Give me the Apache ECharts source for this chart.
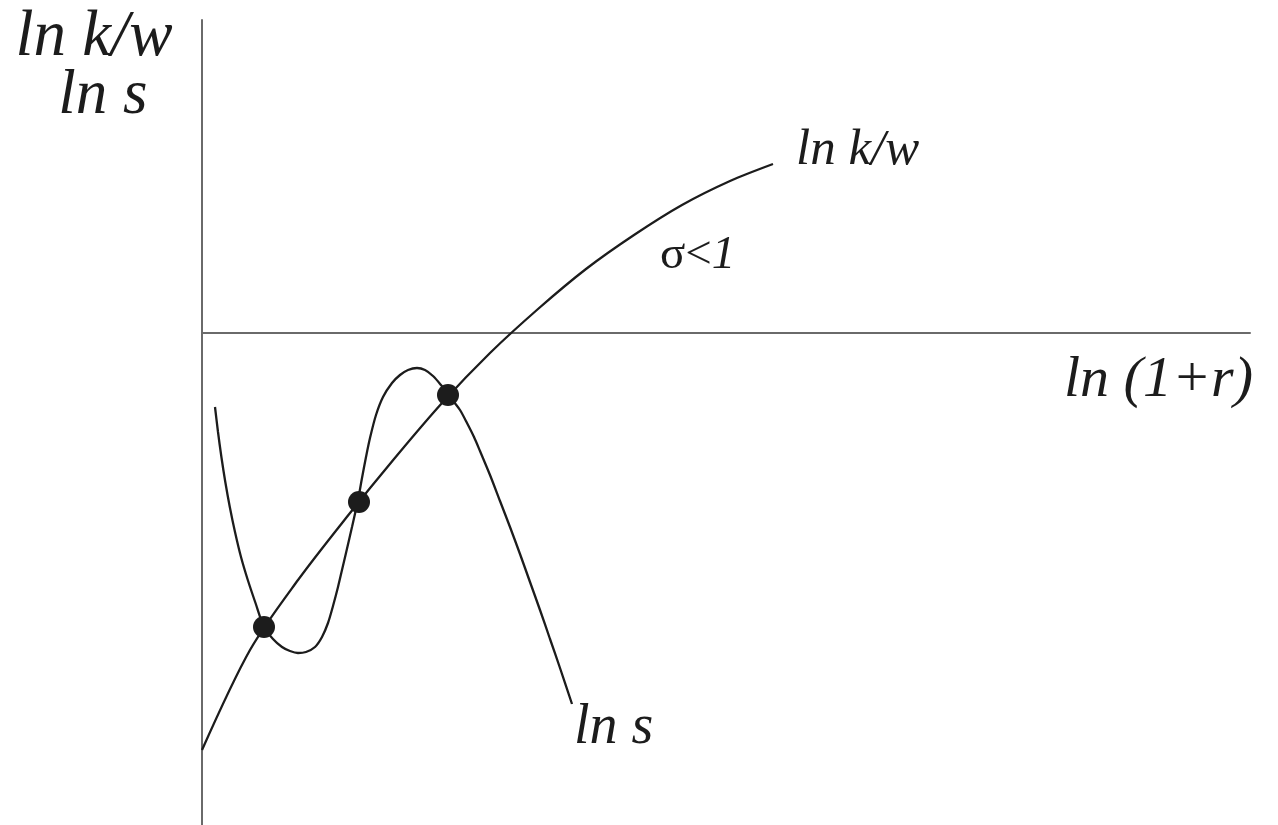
<!DOCTYPE html>
<html>
<head>
<meta charset="utf-8">
<title>ln k/w and ln s against ln (1+r)</title>
<script src="https://cdn.jsdelivr.net/npm/echarts@6/dist/echarts.min.js"></script>
<style>
  html, body { margin: 0; padding: 0; background: #ffffff; }
  #chart { width: 1278px; height: 825px; }
</style>
</head>
<body>
<div id="chart"></div>
<script>
// ln k/w : concave, rising curve (sigma < 1)
const kwX = [0.00, 0.48, 0.96, 1.44, 1.92, 2.40, 2.88, 3.36, 3.84, 4.32, 4.80, 5.28, 5.71];
const kwY = [-4.17, -3.17, -2.47, -1.85, -1.26, -0.70, -0.20, 0.24, 0.64, 0.98, 1.28, 1.52, 1.69];

// ln s : wavy curve crossing ln k/w three times
const sX = [0.130, 0.160, 0.194, 0.233, 0.278, 0.330, 0.390, 0.458, 0.535, 0.62, 0.71, 0.80, 0.88, 0.96,
            1.04, 1.13, 1.20, 1.26, 1.31, 1.36, 1.40, 1.44, 1.50, 1.56, 1.60, 1.64, 1.68, 1.74,
            1.81, 1.90, 1.98, 2.06, 2.15, 2.23, 2.31, 2.39, 2.46, 2.52, 2.58, 2.65, 2.72, 2.78,
            2.88, 2.98, 3.08, 3.18, 3.28, 3.38, 3.48, 3.58, 3.70];
const sY = [-0.74, -0.99, -1.24, -1.49, -1.74, -1.99, -2.24, -2.47, -2.70, -2.94, -3.06, -3.14, -3.18, -3.20,
            -3.19, -3.14, -3.04, -2.90, -2.73, -2.54, -2.37, -2.20, -1.94, -1.67, -1.45, -1.24, -1.05, -0.82,
            -0.64, -0.50, -0.42, -0.37, -0.35, -0.37, -0.43, -0.52, -0.61, -0.69, -0.77, -0.90, -1.04, -1.18,
            -1.42, -1.68, -1.94, -2.21, -2.49, -2.77, -3.06, -3.35, -3.71];

// equilibria where the two curves meet
const eqX = [0.62, 1.57, 2.46];
const eqY = [-2.94, -1.69, -0.62];

const xRange = [0, 10.48];
const yRange = [-4.92, 3.13];

const pair = (xs, ys) => xs.map((x, i) => [x, ys[i]]);

const ink = '#1c1c1c';
const axisGrey = '#6a6a6a';
const italicSerif = (size) => 'italic ' + size + 'px "Liberation Serif", "DejaVu Serif", serif';
const uprightSerif = (size) => size + 'px "Liberation Serif", "DejaVu Serif", serif';

const chart = echarts.init(document.getElementById('chart'), null, { renderer: 'canvas' });

chart.setOption({
  animation: false,
  backgroundColor: '#ffffff',
  grid: { left: 202, right: 28, top: 20, bottom: 0, containLabel: false },
  xAxis: {
    type: 'value',
    min: xRange[0],
    max: xRange[1],
    axisLine: { show: true, onZero: true, lineStyle: { color: axisGrey, width: 2 } },
    axisTick: { show: false },
    axisLabel: { show: false },
    splitLine: { show: false }
  },
  yAxis: {
    type: 'value',
    min: yRange[0],
    max: yRange[1],
    axisLine: { show: true, onZero: false, lineStyle: { color: axisGrey, width: 2 } },
    axisTick: { show: false },
    axisLabel: { show: false },
    splitLine: { show: false }
  },
  series: [
    {
      name: 'ln k/w',
      type: 'line',
      data: pair(kwX, kwY),
      smooth: 0.3,
      symbol: 'none',
      lineStyle: { color: ink, width: 2.3 },
      z: 3
    },
    {
      name: 'ln s',
      type: 'line',
      data: pair(sX, sY),
      smooth: 0.3,
      symbol: 'none',
      lineStyle: { color: ink, width: 2.3 },
      z: 3
    },
    {
      name: 'equilibria',
      type: 'scatter',
      data: pair(eqX, eqY),
      symbol: 'circle',
      symbolSize: 22,
      itemStyle: { color: ink, opacity: 1 },
      z: 5
    }
  ],
  graphic: [
    {
      type: 'text',
      style: { text: 'ln k/w', x: 94, y: 38, align: 'center', verticalAlign: 'middle', font: italicSerif(65), fill: ink }
    },
    {
      type: 'text',
      style: { text: 'ln s', x: 103, y: 96, align: 'center', verticalAlign: 'middle', font: italicSerif(63), fill: ink }
    },
    {
      type: 'text',
      style: { text: 'ln k/w', x: 796, y: 151, align: 'left', verticalAlign: 'middle', font: italicSerif(51), fill: ink }
    },
    {
      type: 'text',
      style: {
        text: '{a|σ<}{b|1}',
        x: 660, y: 256, align: 'left', verticalAlign: 'middle',
        rich: {
          a: { font: uprightSerif(47), fill: ink },
          b: { font: italicSerif(47), fill: ink }
        }
      }
    },
    {
      type: 'text',
      style: { text: 'ln (1+r)', x: 1064, y: 381, align: 'left', verticalAlign: 'middle', font: italicSerif(58), fill: ink }
    },
    {
      type: 'text',
      style: { text: 'ln s', x: 574, y: 728, align: 'left', verticalAlign: 'middle', font: italicSerif(56), fill: ink }
    }
  ]
});
</script>
</body>
</html>
